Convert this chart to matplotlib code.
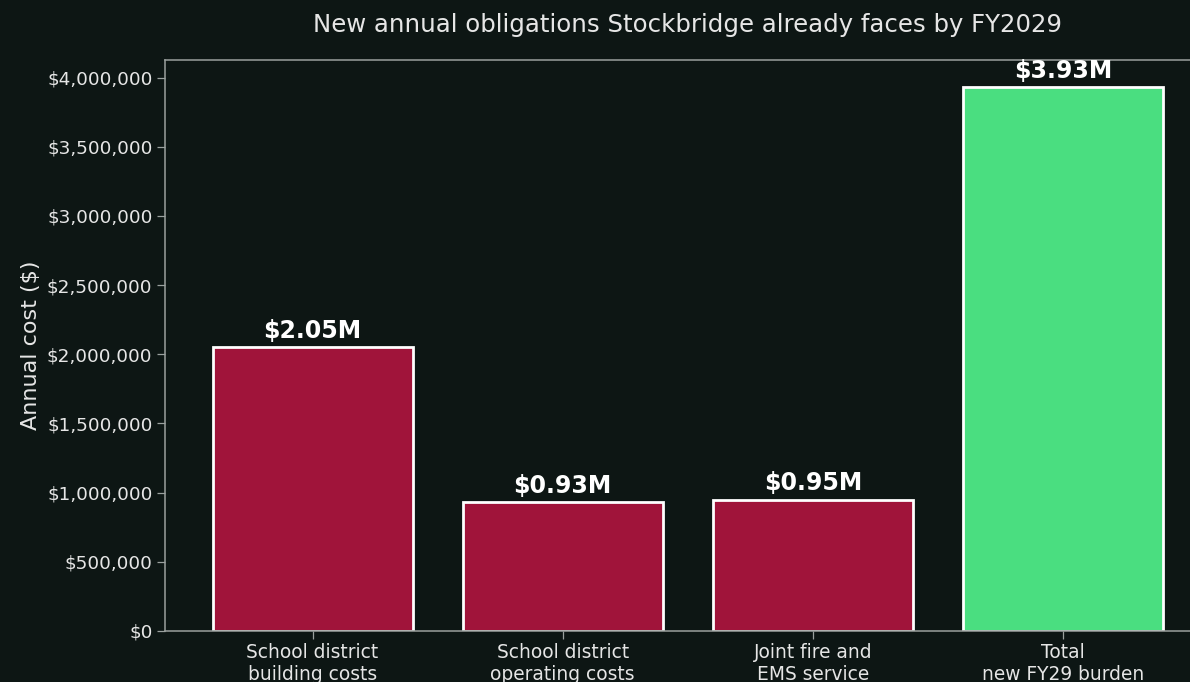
import matplotlib
matplotlib.use("Agg")
import matplotlib.pyplot as plt
from matplotlib.ticker import FuncFormatter

plt.rcParams["font.family"] = ["DejaVu Sans"]

categories = ["School district\nbuilding costs", "School district\noperating costs",
              "Joint fire and\nEMS service", "Total\nnew FY29 burden"]
costs = [2050000, 930000, 950000, 3930000]
value_labels = ["$2.05M", "$0.93M", "$0.95M", "$3.93M"]
bar_colors = ["#a0143a", "#a0143a", "#a0143a", "#4ade80"]

BG = "#0d1614"
TEXT = "#e6e6e6"
SPINE = "#9aa09e"

fig = plt.figure(figsize=(11.9, 6.82), dpi=100, facecolor=BG)
ax = fig.add_axes([165 / 1190, 51 / 682, 1045.5 / 1190, 571 / 682], facecolor=BG)

x = range(len(categories))
bars = ax.bar(x, costs, width=0.8, color=bar_colors, edgecolor="white", linewidth=2)

for b, lbl in zip(bars, value_labels):
    ax.annotate(lbl, (b.get_x() + b.get_width() / 2, b.get_height()),
                xytext=(0, 3), textcoords="offset points",
                ha="center", va="bottom", fontsize=17, fontweight="bold", color="white")

ax.set_xticks(list(x))
ax.set_xticklabels(categories, fontsize=13.4, color=TEXT)
ax.yaxis.set_major_formatter(FuncFormatter(lambda v, p: f"${v:,.0f}"))
ax.tick_params(axis="y", labelsize=13.3, colors=TEXT)
ax.tick_params(axis="both", color=SPINE, length=5.5, width=0.9)
ax.set_ylabel("Annual cost ($)", fontsize=16, color=TEXT)
ax.set_title("New annual obligations Stockbridge already faces by FY2029",
             fontsize=17.6, color=TEXT, pad=20)

for s in ax.spines.values():
    s.set_color(SPINE)
    s.set_linewidth(1.1)

fig.savefig("out.png", dpi=100, facecolor=BG)
